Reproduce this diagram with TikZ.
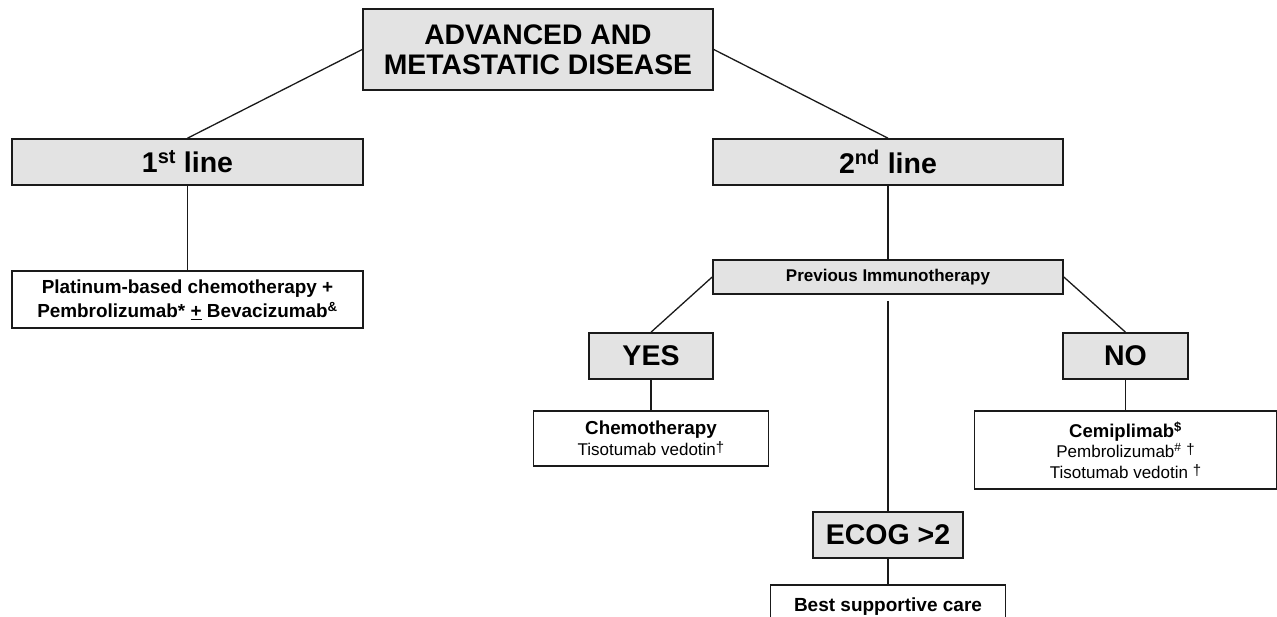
\documentclass[tikz,border=0pt]{standalone}
\usepackage{fontspec}
\setmainfont{Liberation Sans}
\definecolor{boxgray}{HTML}{E3E3E3}
\definecolor{edge}{HTML}{1A1A1A}
\newcommand{\mydag}{\raisebox{0.35ex}{\fontsize{15}{15}\selectfont\mdseries †}}
\begin{document}
\begin{tikzpicture}[x=1pt,y=-1pt,
  gbox/.style={draw=edge, line width=1.6pt, fill=boxgray, inner sep=0pt, align=center,
    font=\bfseries\fontsize{28.5}{30}\selectfont},
  wbox/.style={draw=edge, line width=1.6pt, fill=white, inner sep=0pt, align=center},
  conn/.style={draw=edge, line width=1.3pt}]
\useasboundingbox (0,0) rectangle (1277,617);
\fill[white] (0,0) rectangle (1277,617);
\clip (0,0) rectangle (1277,617);

\node[gbox, minimum width=350pt, minimum height=81pt,
  font=\bfseries\fontsize{28.3}{30}\selectfont] (top) at (538,49.5)
  {ADVANCED AND\\METASTATIC DISEASE};
\node[gbox, minimum width=351pt, minimum height=46pt] (first) at (187.5,162)
  {1\textsuperscript{st} line};
\node[gbox, minimum width=350pt, minimum height=46pt] (second) at (888,162)
  {2\textsuperscript{nd} line};
\node[wbox, minimum width=351pt, minimum height=57pt,
  font=\bfseries\fontsize{18.9}{24}\selectfont] (plat) at (187.5,299.5)
  {Platinum-based chemotherapy +\\Pembrolizumab* \underline{+} Bevacizumab\textsuperscript{\&}};
\node[gbox, minimum width=350pt, minimum height=34pt,
  font=\bfseries\fontsize{17}{20}\selectfont] (prev) at (888,277)
  {Previous Immunotherapy};
\node[gbox, minimum width=124pt, minimum height=46pt] (yes) at (651,356) {YES};
\node[gbox, minimum width=125pt, minimum height=46pt] (no) at (1125.5,356) {NO};
\node[wbox, minimum width=235pt, minimum height=55pt,
  font=\fontsize{17}{21}\selectfont] (chemo) at (651,438.5)
  {{\bfseries\fontsize{18.8}{21}\selectfont Chemotherapy}\\Tisotumab vedotin\mydag};
\node[wbox, minimum width=302pt, minimum height=78pt,
  font=\fontsize{17}{20.5}\selectfont] (cemi) at (1125.5,450)
  {{\bfseries\fontsize{18.5}{20.5}\selectfont Cemiplimab\textsuperscript{\$}}\\
   Pembrolizumab\textsuperscript{\#} \mydag\\Tisotumab vedotin \mydag};
\node[gbox, minimum width=150pt, minimum height=46pt] (ecog) at (888,535) {ECOG >2};
\node[wbox, minimum width=235pt, text height=27pt, text depth=33pt,
  font=\bfseries\fontsize{19}{22}\selectfont, anchor=north] (bsc) at (888,584)
  {Best supportive care};

\draw[conn] (top.west) -- (first.north);
\draw[conn] (top.east) -- (second.north);
\draw[conn] (first.south) -- (plat.north);
\draw[conn] (second.south) -- (prev.north);
\draw[conn] (prev.west) -- (yes.north);
\draw[conn] (prev.east) -- (no.north);
\draw[conn] (yes.south) -- (chemo.north);
\draw[conn] (no.south) -- (cemi.north);
\draw[conn] ([yshift=-6pt]prev.south) -- (ecog.north);
\draw[conn] (ecog.south) -- (bsc.north);
\end{tikzpicture}
\end{document}
